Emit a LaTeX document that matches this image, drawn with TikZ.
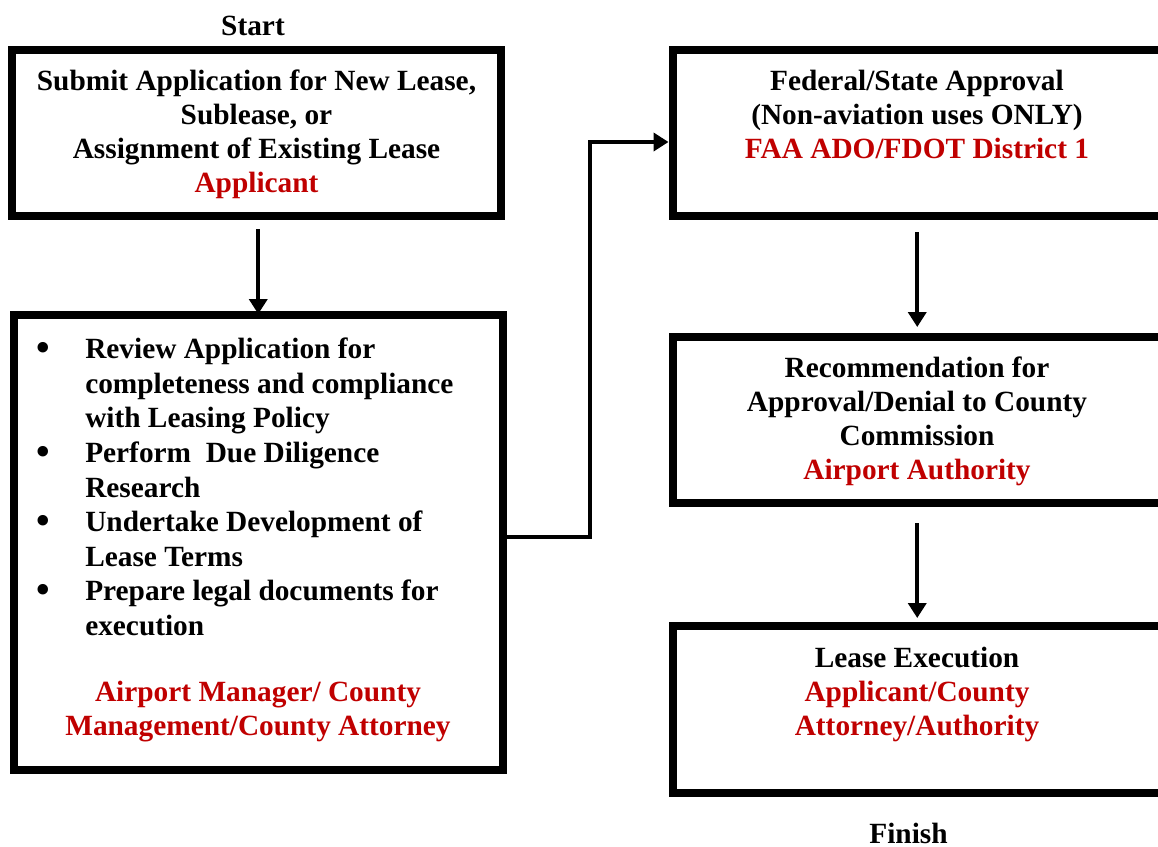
\documentclass[tikz,border=0pt]{standalone}
\usepackage{fontspec}
\setmainfont{Liberation Serif}
\usetikzlibrary{arrows.meta}
\definecolor{actred}{RGB}{192,0,0}
\newcommand{\bulletmark}{\llap{\raisebox{-1.2pt}{\fontsize{29}{29}\selectfont\textbullet}\hspace{26.5pt}}}
\tikzset{
  box/.style={draw=black, line width=6pt, fill=white, rectangle, inner sep=0pt},
  txt/.style={inner sep=0pt, font=\fontsize{22}{25.5}\selectfont\bfseries, align=center},
  arr/.style={line width=3.2pt, -{Triangle[length=11.25pt,width=13.5pt]}},
}
\begin{document}
\begin{tikzpicture}[x=0.75pt, y=-0.75pt]
\useasboundingbox (0,0) rectangle (1158,847);
\clip (0,0) rectangle (1158,847);
\fill[white] (0,0) rectangle (1158,847);
% boxes
\node[box, minimum width=366.75pt, minimum height=124.875pt] (b1) at (256.5,132.75) {};
\node[box, minimum width=367.1pt, minimum height=341.25pt] (b2) at (258.25,542.5) {};
\node[box, minimum width=367.1pt, minimum height=124.5pt] (b3) at (917.25,133) {};
\node[box, minimum width=367.1pt, minimum height=124.5pt] (b4) at (917.25,420) {};
\node[box, minimum width=367.1pt, minimum height=125.25pt] (b5) at (917.25,709.5) {};
% labels
\node[txt, anchor=base] (start) at (253,35) {Start};
\node[txt, anchor=base] (finish) at (908.5,843) {Finish};
\node[txt, anchor=north] (t1) at (256.5,70) {Submit Application for New Lease,\\Sublease, or\\Assignment of Existing Lease\\\textcolor{actred}{Applicant}};
\node[txt, anchor=north west, align=left, font=\fontsize{22}{25.9}\selectfont\bfseries] (t2) at (85,338) {%
\bulletmark Review Application for\\
completeness and compliance\\
with Leasing Policy\\
\bulletmark Perform\ \ Due Diligence\\
Research\\
\bulletmark Undertake Development of\\
Lease Terms\\
\bulletmark Prepare legal documents for\\
execution};
\node[txt, anchor=north, text=actred] (t2r) at (258,681) {Airport Manager/ County\\Management/County Attorney};
\node[txt, anchor=north] (t3) at (917,70) {Federal/State Approval\\(Non-aviation uses ONLY)\\\textcolor{actred}{FAA ADO/FDOT District 1}};
\node[txt, anchor=north] (t4) at (917,357) {Recommendation for\\Approval/Denial to County\\Commission\\\textcolor{actred}{Airport Authority}};
\node[txt, anchor=north] (t5) at (917,647) {Lease Execution\\\textcolor{actred}{Applicant/County}\\\textcolor{actred}{Attorney/Authority}};
% connectors
\draw[arr, shorten <=6.75pt, shorten >=-2.25pt] (b1.south -| b2.north) -- (b2.north);
\coordinate (bend) at (590,142);
\draw[arr] ([yshift=4.1pt]b2.east) -| (bend) -- (bend -| b3.west);
\draw[arr, shorten <=9pt, shorten >=4.5pt] (b3.south) -- (b4.north);
\draw[arr, shorten <=12pt, shorten >=3pt] (b4.south) -- (b5.north);
\end{tikzpicture}
\end{document}
